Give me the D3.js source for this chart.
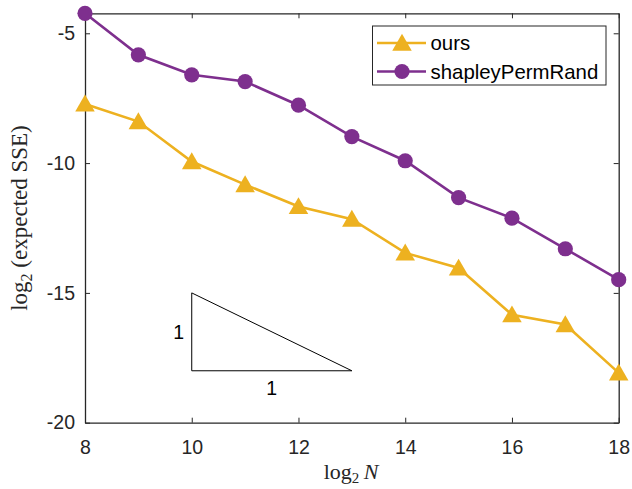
<!DOCTYPE html>
<html><head><meta charset="utf-8">
<script src="https://cdn.jsdelivr.net/npm/d3@7"></script>
<style>body{margin:0;background:#fff}svg{display:block}</style>
</head><body>
<script>
const xs = [8, 9, 10, 11, 12, 13, 14, 15, 16, 17, 18];
const ours = [-7.72, -8.40, -9.94, -10.83, -11.67, -12.16, -13.46, -14.04, -15.84, -16.22, -18.08];
const shapley = [-4.23, -5.83, -6.60, -6.86, -7.77, -8.98, -9.91, -11.33, -12.12, -13.30, -14.49];
const xTicks = [8, 10, 12, 14, 16, 18];
const yTicks = [-5, -10, -15, -20];
const seriesNames = ["ours", "shapleyPermRand"];
const slopeTri = [[10, -15], [10, -18], [13, -18]];

const W = 632, H = 489;
const L = 85, R = 618.7, T = 13.3, B = 422.7;
const svg = d3.select("body").append("svg").attr("width", W).attr("height", H);
const x = d3.scaleLinear().domain([8, 18]).range([L, R]);
const y = d3.scaleLinear().domain([-20, -4.23]).range([B, T]);
const axCol = "#262626";
const font = "'Liberation Sans', Arial, Helvetica, sans-serif";
const serif = "'Liberation Serif', 'Times New Roman', serif";

// axes (box on, ticks inside)
const gx = svg.append("g").attr("transform", `translate(0,${B})`)
  .call(d3.axisBottom(x).tickValues(xTicks).tickFormat(d3.format("d")).tickSizeInner(-5).tickSizeOuter(0).tickPadding(17));
const gxt = svg.append("g").attr("transform", `translate(0,${T})`)
  .call(d3.axisTop(x).tickValues(xTicks).tickFormat("").tickSizeInner(-5).tickSizeOuter(0));
const gy = svg.append("g").attr("transform", `translate(${L},0)`)
  .call(d3.axisLeft(y).tickValues(yTicks).tickFormat(d => "-" + Math.abs(d)).tickSizeInner(-5).tickSizeOuter(0).tickPadding(10));
const gyr = svg.append("g").attr("transform", `translate(${R},0)`)
  .call(d3.axisRight(y).tickValues(yTicks).tickFormat("").tickSizeInner(-5).tickSizeOuter(0));
[gx, gxt, gy, gyr].forEach(g => {
  g.select(".domain").attr("stroke", axCol).attr("stroke-width", 1.3);
  g.selectAll(".tick line").attr("stroke", axCol).attr("stroke-width", 1);
  g.selectAll("text").attr("fill", axCol).style("font-family", font).style("font-size", "19.5px");
});
gx.selectAll("text").attr("dy", "0.71em");

// slope triangle
svg.append("path")
  .attr("d", d3.line().x(d => x(d[0])).y(d => y(d[1]))(slopeTri) + "Z")
  .attr("fill", "none").attr("stroke", "#000").attr("stroke-width", 1);
svg.append("text").attr("x", x(10) - 13).attr("y", y(-16.5)).attr("dy", "0.35em")
  .attr("text-anchor", "middle").style("font-family", font).style("font-size", "19.5px").text("1");
svg.append("text").attr("x", x(11.5)).attr("y", y(-18) + 17).attr("dy", "0.35em")
  .attr("text-anchor", "middle").style("font-family", font).style("font-size", "19.5px").text("1");

const colors = ["#EDB120", "#7E2F8E"];
const line = d3.line().x((d, i) => x(xs[i])).y(d => y(d));
const triPath = (cx, cy, s) => `M${cx},${cy - s}L${cx + s * 1.05},${cy + s * 0.82}L${cx - s * 1.05},${cy + s * 0.82}Z`;

// ours
svg.append("path").attr("d", line(ours)).attr("fill", "none").attr("stroke", colors[0]).attr("stroke-width", 2.6);
svg.selectAll(".tri").data(ours).enter().append("path")
  .attr("d", (d, i) => triPath(x(xs[i]), y(d), 9.3)).attr("fill", colors[0]);
// shapley
svg.append("path").attr("d", line(shapley)).attr("fill", "none").attr("stroke", colors[1]).attr("stroke-width", 2.6);
svg.selectAll(".circ").data(shapley).enter().append("circle")
  .attr("cx", (d, i) => x(xs[i])).attr("cy", d => y(d)).attr("r", 7.6).attr("fill", colors[1]);

// legend
const lg = svg.append("g");
lg.append("rect").attr("x", 372.5).attr("y", 26).attr("width", 233.5).attr("height", 59)
  .attr("fill", "#fff").attr("stroke", axCol).attr("stroke-width", 1);
[43, 71.5].forEach((ly, k) => {
  lg.append("line").attr("x1", 377).attr("x2", 426).attr("y1", ly).attr("y2", ly)
    .attr("stroke", colors[k]).attr("stroke-width", 2.6);
  if (k === 0) lg.append("path").attr("d", triPath(402, ly, 9.3)).attr("fill", colors[0]);
  else lg.append("circle").attr("cx", 402).attr("cy", ly).attr("r", 7.6).attr("fill", colors[1]);
  lg.append("text").attr("x", 430.5).attr("y", ly).attr("dy", "0.35em")
    .style("font-family", font).style("font-size", "20.4px").attr("fill", "#000").text(seriesNames[k]);
});

// axis labels
const xl = svg.append("text").attr("x", 351).attr("y", 479).attr("text-anchor", "middle")
  .style("font-family", serif).style("font-size", "22px").attr("fill", axCol);
xl.append("tspan").text("log");
xl.append("tspan").attr("dy", 4).style("font-size", "15px").text("2");
xl.append("tspan").attr("dy", -4).text("\u2009");
xl.append("tspan").style("font-style", "italic").text("N");

const yl = svg.append("text").attr("transform", `translate(27,${(T + B) / 2}) rotate(-90)`)
  .attr("text-anchor", "middle").style("font-family", serif).style("font-size", "23px").attr("fill", axCol);
yl.append("tspan").text("log");
yl.append("tspan").attr("dy", 5).style("font-size", "16px").text("2");
yl.append("tspan").attr("dy", -5).text(" (expected SSE)");
</script>
</body></html>
